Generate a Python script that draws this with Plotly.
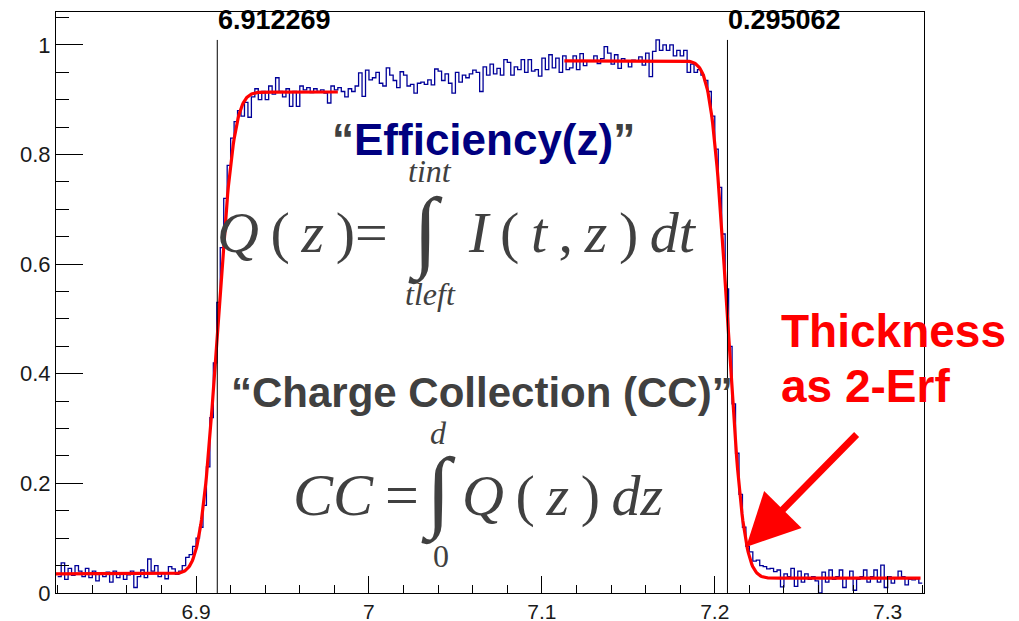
import math
import numpy as np
import plotly.graph_objects as go

# Histogram binning along z
z_min, z_max, n_bins = 6.82, 7.32, 250

# Bin contents (normalised charge per bin)
counts_baseline_left = [
    0.030, 0.055, 0.025, 0.045, 0.032, 0.050, 0.040, 0.030, 0.045, 0.028,
    0.040, 0.022, 0.035, 0.030, 0.038, 0.020, 0.040, 0.028, 0.036, 0.025,
    0.033, 0.040, 0.010, 0.030, 0.042, 0.028, 0.062, 0.040, 0.050, 0.030,
    0.036, 0.026, 0.048, 0.044, 0.034, 0.040, 0.050, 0.065,
]
counts_rise = [
    0.070, 0.085, 0.100, 0.120, 0.160, 0.230, 0.320, 0.420, 0.530, 0.630,
    0.720, 0.780, 0.830, 0.860,
]
counts_plateau = [
    0.880, 0.870, 0.895, 0.868, 0.905, 0.920, 0.900, 0.915, 0.900, 0.925,
    0.910, 0.940, 0.915, 0.905, 0.920, 0.888, 0.915, 0.888, 0.925, 0.918,
    0.922, 0.913, 0.920, 0.915, 0.918, 0.912, 0.894, 0.925, 0.918, 0.922,
    0.915, 0.905, 0.920, 0.915, 0.925, 0.949, 0.906, 0.954, 0.936, 0.940,
    0.950, 0.930, 0.925, 0.958, 0.945, 0.935, 0.922, 0.951, 0.945, 0.925,
    0.928, 0.912, 0.930, 0.932, 0.928, 0.936, 0.927, 0.956, 0.952, 0.935,
    0.947, 0.930, 0.912, 0.950, 0.932, 0.945, 0.940, 0.947, 0.954, 0.950,
    0.915, 0.960, 0.945, 0.965, 0.947, 0.957, 0.945, 0.973, 0.968, 0.945,
    0.960, 0.955, 0.973, 0.950, 0.973, 0.952, 0.955, 0.943, 0.976, 0.955,
    0.982, 0.958, 0.976, 0.950, 0.980, 0.955, 0.958, 0.980, 0.955, 0.984,
    0.962, 0.970, 0.970, 0.980, 0.966, 0.975, 0.997, 0.985, 0.965, 0.982,
    0.957, 0.975, 0.970, 0.960, 0.972, 0.970, 0.978, 0.963, 0.985, 0.942,
    0.988, 1.009, 0.990, 1.000, 0.990, 1.000, 0.980, 0.990, 0.980, 0.990,
    0.950, 0.965, 0.950, 0.955, 0.945,
]
counts_fall = [
    0.935, 0.915, 0.870, 0.810, 0.740, 0.655, 0.555, 0.450, 0.345, 0.255,
    0.180, 0.120, 0.085, 0.075, 0.058, 0.060, 0.050, 0.048,
]
counts_baseline_right = [
    0.044, 0.045, 0.039, 0.042, 0.011, 0.035, 0.030, 0.045, 0.012, 0.040,
    0.020, 0.035, 0.025, 0.030, 0.022, 0.000, 0.038, 0.020, 0.042, 0.025,
    0.030, 0.042, 0.010, 0.028, 0.040, 0.005, 0.025, 0.030, 0.042, 0.020,
    0.030, 0.042, 0.020, 0.051, 0.010, 0.030, 0.018, 0.028, 0.040, 0.030,
    0.015, 0.025, 0.024, 0.026, 0.018,
]
counts = (counts_baseline_left + counts_rise + counts_plateau
          + counts_fall + counts_baseline_right)

# Error-function fit parameters (left rising edge, right falling edge)
left_base, left_top, left_mu, left_sigma = 0.035, 0.914, 6.912269, 0.0075
left_range = (6.819, 6.982)
thickness = 0.295062
right_top, right_base, right_sigma = 0.971, 0.027, 0.0073
right_mu = left_mu + thickness
right_range = (7.113, 7.319)

# Axis tick labels
x_ticks = [6.9, 7.0, 7.1, 7.2, 7.3]
x_tick_text = ["6.9", "7", "7.1", "7.2", "7.3"]
y_ticks = [0, 0.2, 0.4, 0.6, 0.8, 1.0]
y_tick_text = ["0", "0.2", "0.4", "0.6", "0.8", "1"]

edges = np.linspace(z_min, z_max, n_bins + 1)
hist_x = list(edges)
hist_y = list(counts) + [counts[-1]]


def phi(u):
    return 0.5 * (1.0 + math.erf(u / math.sqrt(2.0)))


xl = np.linspace(left_range[0], left_range[1], 400)
yl = [left_base + (left_top - left_base) * phi((v - left_mu) / left_sigma) for v in xl]
xr = np.linspace(right_range[0], right_range[1], 400)
yr = [right_base + (right_top - right_base) * (1 - phi((v - right_mu) / right_sigma)) for v in xr]

W, H = 1019, 621
ML, MR, MT, MB = 56, 95, 12, 28
PW, PH = W - ML - MR, H - MT - MB


def px(x):
    return (x - ML) / PW


def py(y):
    return (H - MB - y) / PH


fig = go.Figure()
fig.add_trace(go.Scatter(x=hist_x, y=hist_y, mode="lines", line_shape="hv",
                         line=dict(color="#000099", width=1.3), hoverinfo="skip"))
fig.add_trace(go.Scatter(x=xl, y=yl, mode="lines",
                         line=dict(color="#ff0000", width=3.2), hoverinfo="skip"))
fig.add_trace(go.Scatter(x=xr, y=yr, mode="lines",
                         line=dict(color="#ff0000", width=3.2), hoverinfo="skip"))

# Edge markers
for xv in (left_mu, right_mu):
    fig.add_shape(type="line", x0=xv, x1=xv, y0=0, y1=1.009, xref="x", yref="y",
                  line=dict(color="black", width=1))

serif = "Liberation Serif, Times New Roman, serif"
sans = "Liberation Sans, Arial, sans-serif"
gray = "#404040"
ts = "\u2009"

annotations = [
    dict(text="<b>%.6f</b>" % left_mu, x=px(216), y=py(20), xanchor="left", yanchor="middle",
         font=dict(family=sans, size=27, color="black")),
    dict(text="<b>%.6f</b>" % thickness, x=px(726), y=py(20), xanchor="left", yanchor="middle",
         font=dict(family=sans, size=27, color="black")),
    dict(text='<b><span style="color:%s">“</span>Efficiency(z)<span style="color:%s">”</span></b>' % (gray, gray),
         x=px(483), y=py(139), xanchor="center", yanchor="middle",
         font=dict(family=sans, size=44, color="#000080")),
    # Q(z) = integral I(t,z) dt
    dict(text="<i>Q</i>%s(%s<i>z</i>%s)=" % (ts, ts, ts), x=px(390), y=py(232), xanchor="right", yanchor="middle",
         font=dict(family=serif, size=58, color=gray)),
    dict(text="∫", x=px(425), y=py(232), xanchor="center", yanchor="middle",
         font=dict(family=serif, size=90, color=gray)),
    dict(text="<i>I</i>%s(%s<i>t</i>%s,%s<i>z</i>%s)%s<i>dt</i>" % (ts, ts, ts, ts, ts, ts), x=px(466), y=py(232),
         xanchor="left", yanchor="middle", font=dict(family=serif, size=58, color=gray)),
    dict(text="<i>tint</i>", x=px(430), y=py(171), xanchor="center", yanchor="middle",
         font=dict(family=serif, size=32, color=gray)),
    dict(text="<i>tleft</i>", x=px(430), y=py(294), xanchor="center", yanchor="middle",
         font=dict(family=serif, size=32, color=gray)),
    dict(text="<b>“Charge Collection (CC)”</b>", x=px(482), y=py(392), xanchor="center", yanchor="middle",
         font=dict(family=sans, size=42, color=gray)),
    # CC = integral Q(z) dz
    dict(text="<i>CC</i>%s=" % ts, x=px(421), y=py(495), xanchor="right", yanchor="middle",
         font=dict(family=serif, size=60, color=gray)),
    dict(text="∫", x=px(438), y=py(492), xanchor="center", yanchor="middle",
         font=dict(family=serif, size=90, color=gray)),
    dict(text="<i>Q</i>%s(%s<i>z</i>%s)%s<i>dz</i>" % (ts, ts, ts, ts), x=px(460), y=py(495),
         xanchor="left", yanchor="middle", font=dict(family=serif, size=58, color=gray)),
    dict(text="<i>d</i>", x=px(438), y=py(433), xanchor="center", yanchor="middle",
         font=dict(family=serif, size=32, color=gray)),
    dict(text="0", x=px(441), y=py(556), xanchor="center", yanchor="middle",
         font=dict(family=serif, size=32, color=gray)),
    dict(text="<b>Thickness</b>", x=px(779), y=py(331), xanchor="left", yanchor="middle",
         font=dict(family=sans, size=46, color="#ff0000")),
    dict(text="<b>as 2-Erf</b>", x=px(779), y=py(386), xanchor="left", yanchor="middle",
         font=dict(family=sans, size=46, color="#ff0000")),
    # Arrow pointing at the falling edge
    dict(text="", x=7.2181, y=0.084, xref="x", yref="y", showarrow=True,
         ax=112, ay=-114, axref="pixel", ayref="pixel",
         arrowhead=2, arrowsize=1.5, arrowwidth=7, arrowcolor="#ff0000"),
]
for a in annotations:
    a.setdefault("xref", "paper")
    a.setdefault("yref", "paper")
    a.setdefault("showarrow", False)

fig.update_layout(
    width=W, height=H,
    margin=dict(l=ML, r=MR, t=MT, b=MB),
    paper_bgcolor="white", plot_bgcolor="white",
    showlegend=False,
    annotations=annotations,
    xaxis=dict(range=[6.819, 7.321], tickvals=x_ticks, ticktext=x_tick_text,
               ticks="inside", ticklen=17, tickcolor="black", tickwidth=1,
               minor=dict(ticks="inside", ticklen=8, dtick=0.02, tick0=6.9,
                          tickcolor="black", tickwidth=1, showgrid=False),
               showline=True, linecolor="black", linewidth=1, mirror=True,
               showgrid=False, zeroline=False, automargin=False,
               tickfont=dict(family=sans, size=21, color="#1a1a1a")),
    yaxis=dict(range=[0, 1.06], tickvals=y_ticks, ticktext=y_tick_text,
               ticks="inside", ticklen=27, tickcolor="black", tickwidth=1,
               minor=dict(ticks="inside", ticklen=13, dtick=0.05, tick0=0,
                          tickcolor="black", tickwidth=1, showgrid=False),
               showline=True, linecolor="black", linewidth=1, mirror=True,
               showgrid=False, zeroline=False, automargin=False,
               tickfont=dict(family=sans, size=22, color="#1a1a1a")),
)

fig.write_html("out.html")
